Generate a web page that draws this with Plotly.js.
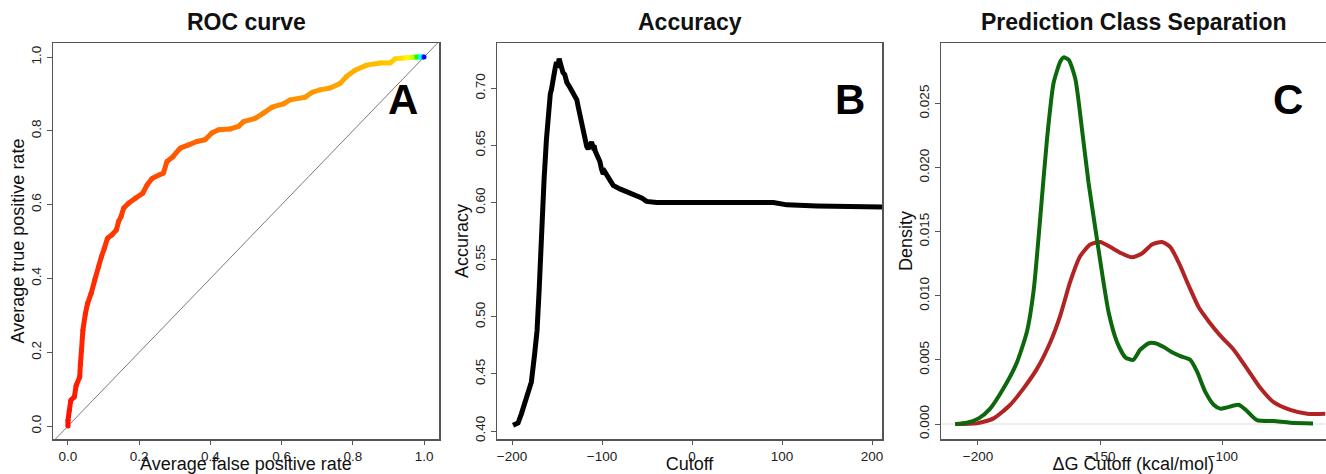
<!DOCTYPE html>
<html><head><meta charset="utf-8">
<script src="https://cdn.plot.ly/plotly-3.0.1.min.js"></script>
<style>html,body{margin:0;padding:0;background:#fff}#chart{width:1326px;height:474px}</style>
</head><body><div id="chart"></div>
<script>
// ---------- Panel A: ROC curve ----------
const rocFpr = [0, 0, 0.004, 0.008, 0.018, 0.023, 0.033, 0.035, 0.038, 0.042, 0.049, 0.055, 0.065, 0.075, 0.086, 0.094, 0.102, 0.111, 0.123, 0.136, 0.142, 0.149, 0.156, 0.170, 0.189, 0.210, 0.222, 0.236, 0.257, 0.268, 0.278, 0.295, 0.315, 0.339, 0.362, 0.385, 0.404, 0.423, 0.456, 0.479, 0.493, 0.526, 0.549, 0.573, 0.605, 0.624, 0.666, 0.685, 0.708, 0.736, 0.764, 0.783, 0.806, 0.839, 0.877, 0.905, 0.919, 0.935, 0.952, 0.966, 0.980, 0.990, 1.0];
const rocTpr = [0, 0.015, 0.043, 0.070, 0.079, 0.110, 0.133, 0.169, 0.205, 0.260, 0.305, 0.332, 0.359, 0.395, 0.432, 0.459, 0.481, 0.509, 0.518, 0.531, 0.554, 0.567, 0.590, 0.604, 0.617, 0.631, 0.653, 0.671, 0.681, 0.685, 0.717, 0.730, 0.753, 0.762, 0.771, 0.776, 0.794, 0.803, 0.805, 0.812, 0.825, 0.834, 0.848, 0.864, 0.873, 0.884, 0.891, 0.904, 0.911, 0.916, 0.928, 0.948, 0.964, 0.978, 0.984, 0.984, 0.995, 0.997, 0.998, 0.999, 1.0, 1.0, 1.0];
// normalized cutoff at each ROC point (1 = highest cutoff)
const rocCutoff = [0.985, 0.983, 0.980, 0.977, 0.974, 0.972, 0.970, 0.968, 0.966, 0.964, 0.962, 0.960, 0.958, 0.956, 0.954, 0.952, 0.950, 0.948, 0.946, 0.944, 0.942, 0.941, 0.940, 0.938, 0.935, 0.932, 0.930, 0.928, 0.924, 0.922, 0.919, 0.915, 0.911, 0.906, 0.902, 0.898, 0.894, 0.890, 0.885, 0.881, 0.879, 0.875, 0.871, 0.867, 0.862, 0.859, 0.853, 0.850, 0.846, 0.841, 0.836, 0.832, 0.827, 0.820, 0.812, 0.804, 0.796, 0.782, 0.760, 0.700, 0.520, 0.250, 0.0];
const rocTicks = [0, 0.2, 0.4, 0.6, 0.8, 1.0];

// ---------- Panel B: Accuracy ----------
const accCutoff = [-198.9, -193.3, -189.6, -185.9, -182.2, -178.5, -174.8, -172.2, -169.9, -167.3, -164.4, -161.8, -159.2, -157.5, -156.2, -154.5, -153.6, -152.0, -150.6, -149.0, -147.7, -146.5, -145.8, -143.5, -141.4, -139.0, -135.8, -133.0, -130.2, -128.0, -126.5, -124.5, -122.8, -121.0, -119.1, -117.0, -115.4, -113.5, -111.7, -110.0, -108.8, -107.5, -106.2, -104.0, -102.4, -100.5, -98.7, -97.0, -95.0, -93.0, -91.3, -87.6, -80.2, -70.9, -61.6, -56.0, -50.5, -39.3, 27.5, 90.5, 105.4, 138.8, 215.0];
const accValue = [0.405, 0.407, 0.415, 0.424, 0.434, 0.443, 0.468, 0.488, 0.523, 0.576, 0.620, 0.655, 0.687, 0.695, 0.699, 0.709, 0.713, 0.718, 0.723, 0.718, 0.726, 0.723, 0.719, 0.714, 0.712, 0.705, 0.701, 0.697, 0.693, 0.690, 0.684, 0.677, 0.667, 0.660, 0.655, 0.649, 0.647, 0.652, 0.653, 0.649, 0.650, 0.645, 0.643, 0.640, 0.636, 0.629, 0.625, 0.627, 0.624, 0.622, 0.620, 0.615, 0.612, 0.609, 0.606, 0.604, 0.601, 0.600, 0.600, 0.600, 0.598, 0.597, 0.596];
const accXTicks = [-200, -100, 0, 100, 200];
const accYTicks = [0.40, 0.45, 0.50, 0.55, 0.60, 0.65, 0.70];

// ---------- Panel C: Prediction class separation (densities) ----------
const greenX = [-209.3, -204.5, -199.7, -195.0, -189.5, -184.1, -180.0, -177.2, -174.5, -171.8, -169.1, -166.3, -165.0, -162.9, -160.2, -157.5, -154.8, -152.0, -149.3, -146.6, -143.2, -139.8, -136.6, -133.7, -130.2, -127.5, -124.1, -120.7, -117.3, -113.2, -110.5, -107.1, -103.7, -101.0, -98.2, -93.5, -90.0, -86.0, -79.2, -72.4, -63.1];
const greenY = [0, 0.0001, 0.00044, 0.0012, 0.0028, 0.0048, 0.0072, 0.0105, 0.0162, 0.0222, 0.0266, 0.0283, 0.0286, 0.0284, 0.0269, 0.0230, 0.0188, 0.0152, 0.0118, 0.0087, 0.0064, 0.0052, 0.0050, 0.0058, 0.0063, 0.0063, 0.0060, 0.0056, 0.0053, 0.0050, 0.0041, 0.0025, 0.0015, 0.0012, 0.0013, 0.0015, 0.0010, 0.0003, 0.00023, 0.0001, 0.00003];
const redX = [-209.3, -200.4, -193.6, -186.8, -181.3, -175.9, -170.4, -166.3, -162.3, -158.2, -154.1, -150.0, -145.9, -141.2, -137.1, -133.0, -128.9, -124.8, -121.4, -118.0, -113.9, -109.8, -105.7, -101.0, -95.5, -90.0, -84.6, -79.2, -72.4, -65.5, -58.0];
const redY = [0, 0.00005, 0.00044, 0.0015, 0.0028, 0.0043, 0.0064, 0.0085, 0.0111, 0.0131, 0.0140, 0.0142, 0.0138, 0.0133, 0.0130, 0.0133, 0.0140, 0.0142, 0.0138, 0.0126, 0.0108, 0.0091, 0.0080, 0.0069, 0.0058, 0.0043, 0.0028, 0.0017, 0.0011, 0.0008, 0.0008];
const densXTicks = [-200, -150, -100];
const densYTicks = [0, 0.005, 0.010, 0.015, 0.020, 0.025];

// ---------- helpers ----------
function rainbow(t) {
  const h = 240 * (1 - t);
  const c = 1, x = 1 - Math.abs((h / 60) % 2 - 1);
  let r, g, b;
  if (h < 60) { r = c; g = x; b = 0; }
  else if (h < 120) { r = x; g = c; b = 0; }
  else if (h < 180) { r = 0; g = c; b = x; }
  else { r = 0; g = x; b = c; }
  return 'rgb(' + Math.round(r * 255) + ',' + Math.round(g * 255) + ',' + Math.round(b * 255) + ')';
}

const FONT = 'Liberation Sans, Arial, Helvetica, sans-serif';
const traces = [];

// diagonal reference
traces.push({x: [-0.1, 1.1], y: [-0.1, 1.1], mode: 'lines', line: {color: '#7a7a7a', width: 1}, xaxis: 'x', yaxis: 'y', hoverinfo: 'skip', showlegend: false});
// colorized ROC segments
for (let i = 0; i < rocFpr.length - 1; i++) {
  traces.push({
    x: [rocFpr[i], rocFpr[i + 1]], y: [rocTpr[i], rocTpr[i + 1]],
    mode: 'lines', line: {color: rainbow((rocCutoff[i] + rocCutoff[i + 1]) / 2), width: 5},
    xaxis: 'x', yaxis: 'y', hoverinfo: 'skip', showlegend: false
  });
}
traces.push({x: rocFpr, y: rocTpr, mode: 'markers', marker: {size: 5, color: rocCutoff.map(rainbow)}, xaxis: 'x', yaxis: 'y', hoverinfo: 'skip', showlegend: false});

// accuracy
traces.push({x: accCutoff, y: accValue, mode: 'lines', line: {color: '#000', width: 5}, xaxis: 'x2', yaxis: 'y2', showlegend: false});

// densities
traces.push({x: redX, y: redY, mode: 'lines', line: {color: '#b22424', width: 4, shape: 'spline', smoothing: 0.6}, xaxis: 'x3', yaxis: 'y3', showlegend: false});
traces.push({x: greenX, y: greenY, mode: 'lines', line: {color: '#0d680d', width: 4, shape: 'spline', smoothing: 0.6}, xaxis: 'x3', yaxis: 'y3', showlegend: false});

const YD = [35 / 474, 431 / 474];
const TITLEFONT = {family: FONT, size: 18, color: '#111'};
const common = {
  showgrid: false, zeroline: false, showline: true, mirror: true,
  linecolor: '#555', linewidth: 1.5, ticks: 'outside', ticklen: 5, tickwidth: 1, tickcolor: '#555',
  tickfont: {family: FONT, size: 13.5, color: '#222'}, automargin: false, fixedrange: true
};
function ax(extra) { return Object.assign({}, common, extra); }
const XT = {ticklen: 4};

const layout = {
  width: 1326, height: 474,
  margin: {l: 0, r: 0, t: 0, b: 0},
  paper_bgcolor: '#fff', plot_bgcolor: '#fff',
  font: {family: FONT, color: '#111'},
  showlegend: false,
  xaxis: ax(Object.assign({domain: [53 / 1326, 439 / 1326], range: [-0.042, 1.042], anchor: 'y', tickmode: 'array', tickvals: rocTicks, tickformat: '.1f',
    title: {text: 'Average false positive rate', font: TITLEFONT, standoff: 3}}, XT)),
  yaxis: ax({domain: YD, range: [-0.035, 1.038], anchor: 'x', tickmode: 'array', tickvals: rocTicks, tickformat: '.1f', tickangle: -90,
    title: {text: 'Average true positive rate', font: TITLEFONT, standoff: 0}}),
  xaxis2: ax(Object.assign({domain: [497 / 1326, 882 / 1326], range: [-216.7, 211.1], anchor: 'y2', tickmode: 'array', tickvals: accXTicks,
    title: {text: 'Cutoff', font: TITLEFONT, standoff: 3}}, XT)),
  yaxis2: ax({domain: YD, range: [0.393, 0.7397], anchor: 'x2', tickmode: 'array', tickvals: accYTicks, tickformat: '.2f', tickangle: -90,
    title: {text: 'Accuracy', font: TITLEFONT, standoff: 0}}),
  xaxis3: ax(Object.assign({domain: [941 / 1326, 1325.5 / 1326], range: [-215.1, -58.0], anchor: 'y3', tickmode: 'array', tickvals: densXTicks,
    title: {text: 'ΔG Cutoff (kcal/mol)', font: TITLEFONT, standoff: 3}}, XT)),
  yaxis3: ax({domain: YD, range: [-0.00117, 0.02972], anchor: 'x3', tickmode: 'array', tickvals: densYTicks, tickformat: '.3f', tickangle: -90,
    title: {text: 'Density', font: TITLEFONT, standoff: 0}}),
  shapes: [
    {type: 'line', xref: 'x3 domain', yref: 'y3', x0: 0, x1: 1, y0: 0, y1: 0, line: {color: '#dcdcdc', width: 1}, layer: 'below'}
  ],
  annotations: [
    {text: '<b>ROC curve</b>', xref: 'paper', yref: 'paper', x: 246 / 1326, y: (474 - 22) / 474, showarrow: false, font: {family: FONT, size: 23, color: '#111'}, xanchor: 'center', yanchor: 'middle'},
    {text: '<b>Accuracy</b>', xref: 'paper', yref: 'paper', x: 689.5 / 1326, y: (474 - 22) / 474, showarrow: false, font: {family: FONT, size: 23, color: '#111'}, xanchor: 'center', yanchor: 'middle'},
    {text: '<b>Prediction Class Separation</b>', xref: 'paper', yref: 'paper', x: 1133 / 1326, y: (474 - 22) / 474, showarrow: false, font: {family: FONT, size: 23, color: '#111'}, xanchor: 'center', yanchor: 'middle'},
    {text: '<b>A</b>', xref: 'paper', yref: 'paper', x: 403 / 1326, y: (474 - 100) / 474, showarrow: false, font: {family: FONT, size: 42, color: '#000'}, xanchor: 'center', yanchor: 'middle'},
    {text: '<b>B</b>', xref: 'paper', yref: 'paper', x: 850 / 1326, y: (474 - 100) / 474, showarrow: false, font: {family: FONT, size: 42, color: '#000'}, xanchor: 'center', yanchor: 'middle'},
    {text: '<b>C</b>', xref: 'paper', yref: 'paper', x: 1288 / 1326, y: (474 - 100) / 474, showarrow: false, font: {family: FONT, size: 42, color: '#000'}, xanchor: 'center', yanchor: 'middle'}
  ]
};

Plotly.newPlot('chart', traces, layout, {displayModeBar: false, staticPlot: true});
</script>
</body></html>
